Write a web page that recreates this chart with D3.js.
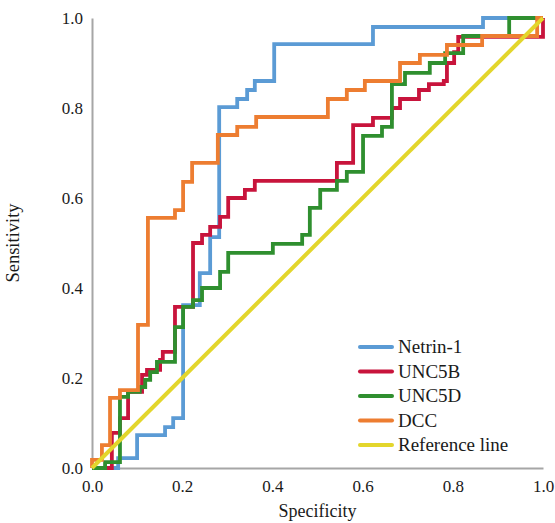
<!DOCTYPE html>
<html>
<head>
<meta charset="utf-8">
<script src="https://cdn.jsdelivr.net/npm/d3@7"></script>
<style>
  html, body { margin: 0; padding: 0; background: #fff; }
  svg { display: block; }
</style>
</head>
<body>
<script>
// ---------- DATA (ROC step-curve vertices: [1 - specificity, sensitivity]) ----------
const seriesNames = ["Netrin-1", "UNC5B", "UNC5D", "DCC", "Reference line"];
const seriesColors = ["#5b9bd5", "#c8143c", "#2f8f2f", "#ed7d31", "#e3d62c"];

const netrin1 = [[0,0],[0.058,0],[0.058,0.022],[0.1,0.022],[0.1,0.073],[0.162,0.073],[0.162,0.091],[0.18,0.091],[0.18,0.111],[0.202,0.111],[0.202,0.362],[0.239,0.362],[0.239,0.433],[0.262,0.433],[0.262,0.513],[0.282,0.513],[0.282,0.802],[0.322,0.802],[0.322,0.82],[0.344,0.82],[0.344,0.84],[0.361,0.84],[0.361,0.86],[0.404,0.86],[0.404,0.942],[0.623,0.942],[0.623,0.98],[0.867,0.98],[0.867,1],[1,1]];

const unc5b = [[0,0],[0.044,0],[0.044,0.078],[0.062,0.078],[0.062,0.111],[0.08,0.111],[0.08,0.169],[0.111,0.169],[0.111,0.207],[0.122,0.207],[0.122,0.218],[0.151,0.218],[0.151,0.24],[0.157,0.24],[0.157,0.258],[0.184,0.258],[0.184,0.358],[0.224,0.358],[0.224,0.5],[0.244,0.5],[0.244,0.518],[0.262,0.518],[0.262,0.536],[0.284,0.536],[0.284,0.558],[0.302,0.558],[0.302,0.6],[0.339,0.6],[0.339,0.618],[0.361,0.618],[0.361,0.638],[0.543,0.638],[0.543,0.678],[0.579,0.678],[0.579,0.762],[0.623,0.762],[0.623,0.778],[0.665,0.778],[0.665,0.8],[0.683,0.8],[0.683,0.82],[0.725,0.82],[0.725,0.84],[0.747,0.84],[0.747,0.853],[0.78,0.853],[0.78,0.86],[0.787,0.86],[0.787,0.9],[0.803,0.9],[0.803,0.924],[0.812,0.924],[0.812,0.958],[1,0.958],[1,1]];

const unc5d = [[0,0],[0.029,0],[0.029,0.013],[0.062,0.013],[0.062,0.158],[0.08,0.158],[0.08,0.169],[0.106,0.169],[0.106,0.18],[0.118,0.18],[0.118,0.196],[0.129,0.196],[0.129,0.213],[0.144,0.213],[0.144,0.236],[0.184,0.236],[0.184,0.313],[0.202,0.313],[0.202,0.358],[0.224,0.358],[0.224,0.373],[0.244,0.373],[0.244,0.4],[0.284,0.4],[0.284,0.436],[0.302,0.436],[0.302,0.478],[0.401,0.478],[0.401,0.498],[0.466,0.498],[0.466,0.518],[0.483,0.518],[0.483,0.578],[0.506,0.578],[0.506,0.618],[0.543,0.618],[0.543,0.638],[0.565,0.638],[0.565,0.658],[0.601,0.658],[0.601,0.738],[0.643,0.738],[0.643,0.758],[0.665,0.758],[0.665,0.853],[0.694,0.853],[0.694,0.878],[0.749,0.878],[0.749,0.9],[0.783,0.9],[0.783,0.922],[0.823,0.922],[0.823,0.96],[0.925,0.96],[0.925,1],[1,1]];

const dcc = [[0,0],[0,0.018],[0.022,0.018],[0.022,0.051],[0.04,0.051],[0.04,0.156],[0.062,0.156],[0.062,0.173],[0.102,0.173],[0.102,0.318],[0.124,0.318],[0.124,0.556],[0.184,0.556],[0.184,0.573],[0.202,0.573],[0.202,0.636],[0.222,0.636],[0.222,0.678],[0.279,0.678],[0.279,0.74],[0.322,0.74],[0.322,0.758],[0.364,0.758],[0.364,0.78],[0.523,0.78],[0.523,0.82],[0.565,0.82],[0.565,0.84],[0.605,0.84],[0.605,0.86],[0.683,0.86],[0.683,0.9],[0.727,0.9],[0.727,0.918],[0.787,0.918],[0.787,0.94],[0.865,0.94],[0.865,0.96],[0.987,0.96],[0.987,1],[1,1]];

const referenceLine = [[0,0],[1,1]];

const xTicks = [0, 0.2, 0.4, 0.6, 0.8, 1.0];
const yTicks = [0, 0.2, 0.4, 0.6, 0.8, 1.0];
const xTitle = "Specificity";
const yTitle = "Sensitivity";

// ---------- DRAWING ----------
const W = 555, H = 523;
const svg = d3.select("body").append("svg").attr("width", W).attr("height", H);
const font = "'Liberation Serif', 'DejaVu Serif', serif";

const x = d3.scaleLinear().domain([0, 1]).range([92, 543]);
const y = d3.scaleLinear().domain([0, 1]).range([468, 18]);

const axisColor = "#a6a6a6";
const xAxis = d3.axisBottom(x).tickValues(xTicks).tickFormat(d3.format(".1f")).tickSize(0).tickPadding(12);
const yAxis = d3.axisLeft(y).tickValues(yTicks).tickFormat(d3.format(".1f")).tickSize(0).tickPadding(9);

const gx = svg.append("g").attr("transform", `translate(0,${y(0)})`).call(xAxis);
const gy = svg.append("g").attr("transform", `translate(${x(0)},0)`).call(yAxis);
[gx, gy].forEach(g => {
  g.select(".domain").attr("stroke", axisColor).attr("stroke-width", 2);
  g.selectAll("text").attr("font-family", font).attr("font-size", 17).attr("fill", "#1a1a1a");
});

// axis titles
svg.append("text").attr("x", (x(0) + x(1)) / 2).attr("y", 517)
  .attr("text-anchor", "middle").attr("font-family", font).attr("font-size", 18).attr("fill", "#1a1a1a")
  .text(xTitle);
svg.append("text").attr("transform", `translate(19,${(y(0) + y(1)) / 2}) rotate(-90)`)
  .attr("text-anchor", "middle").attr("font-family", font).attr("font-size", 18.5).attr("fill", "#1a1a1a")
  .text(yTitle);

// curves
const line = d3.line().x(d => x(d[0])).y(d => y(d[1]));
const allSeries = [netrin1, unc5b, unc5d, dcc, referenceLine];
allSeries.forEach((data, i) => {
  svg.append("path").datum(data)
    .attr("d", line)
    .attr("fill", "none")
    .attr("stroke", seriesColors[i])
    .attr("stroke-width", i === 4 ? 4 : 3.8)
    .attr("stroke-linejoin", "miter")
    .attr("stroke-linecap", "butt");
});

// legend
const legend = svg.append("g");
seriesNames.forEach((name, i) => {
  const ly = 347 + i * 24.5;
  legend.append("line").attr("x1", 360).attr("x2", 392).attr("y1", ly).attr("y2", ly)
    .attr("stroke", seriesColors[i]).attr("stroke-width", 4).attr("stroke-linecap", "round");
  legend.append("text").attr("x", 398).attr("y", ly + 6)
    .attr("font-family", font).attr("font-size", 19).attr("fill", "#1a1a1a")
    .text(name);
});
</script>
</body>
</html>
